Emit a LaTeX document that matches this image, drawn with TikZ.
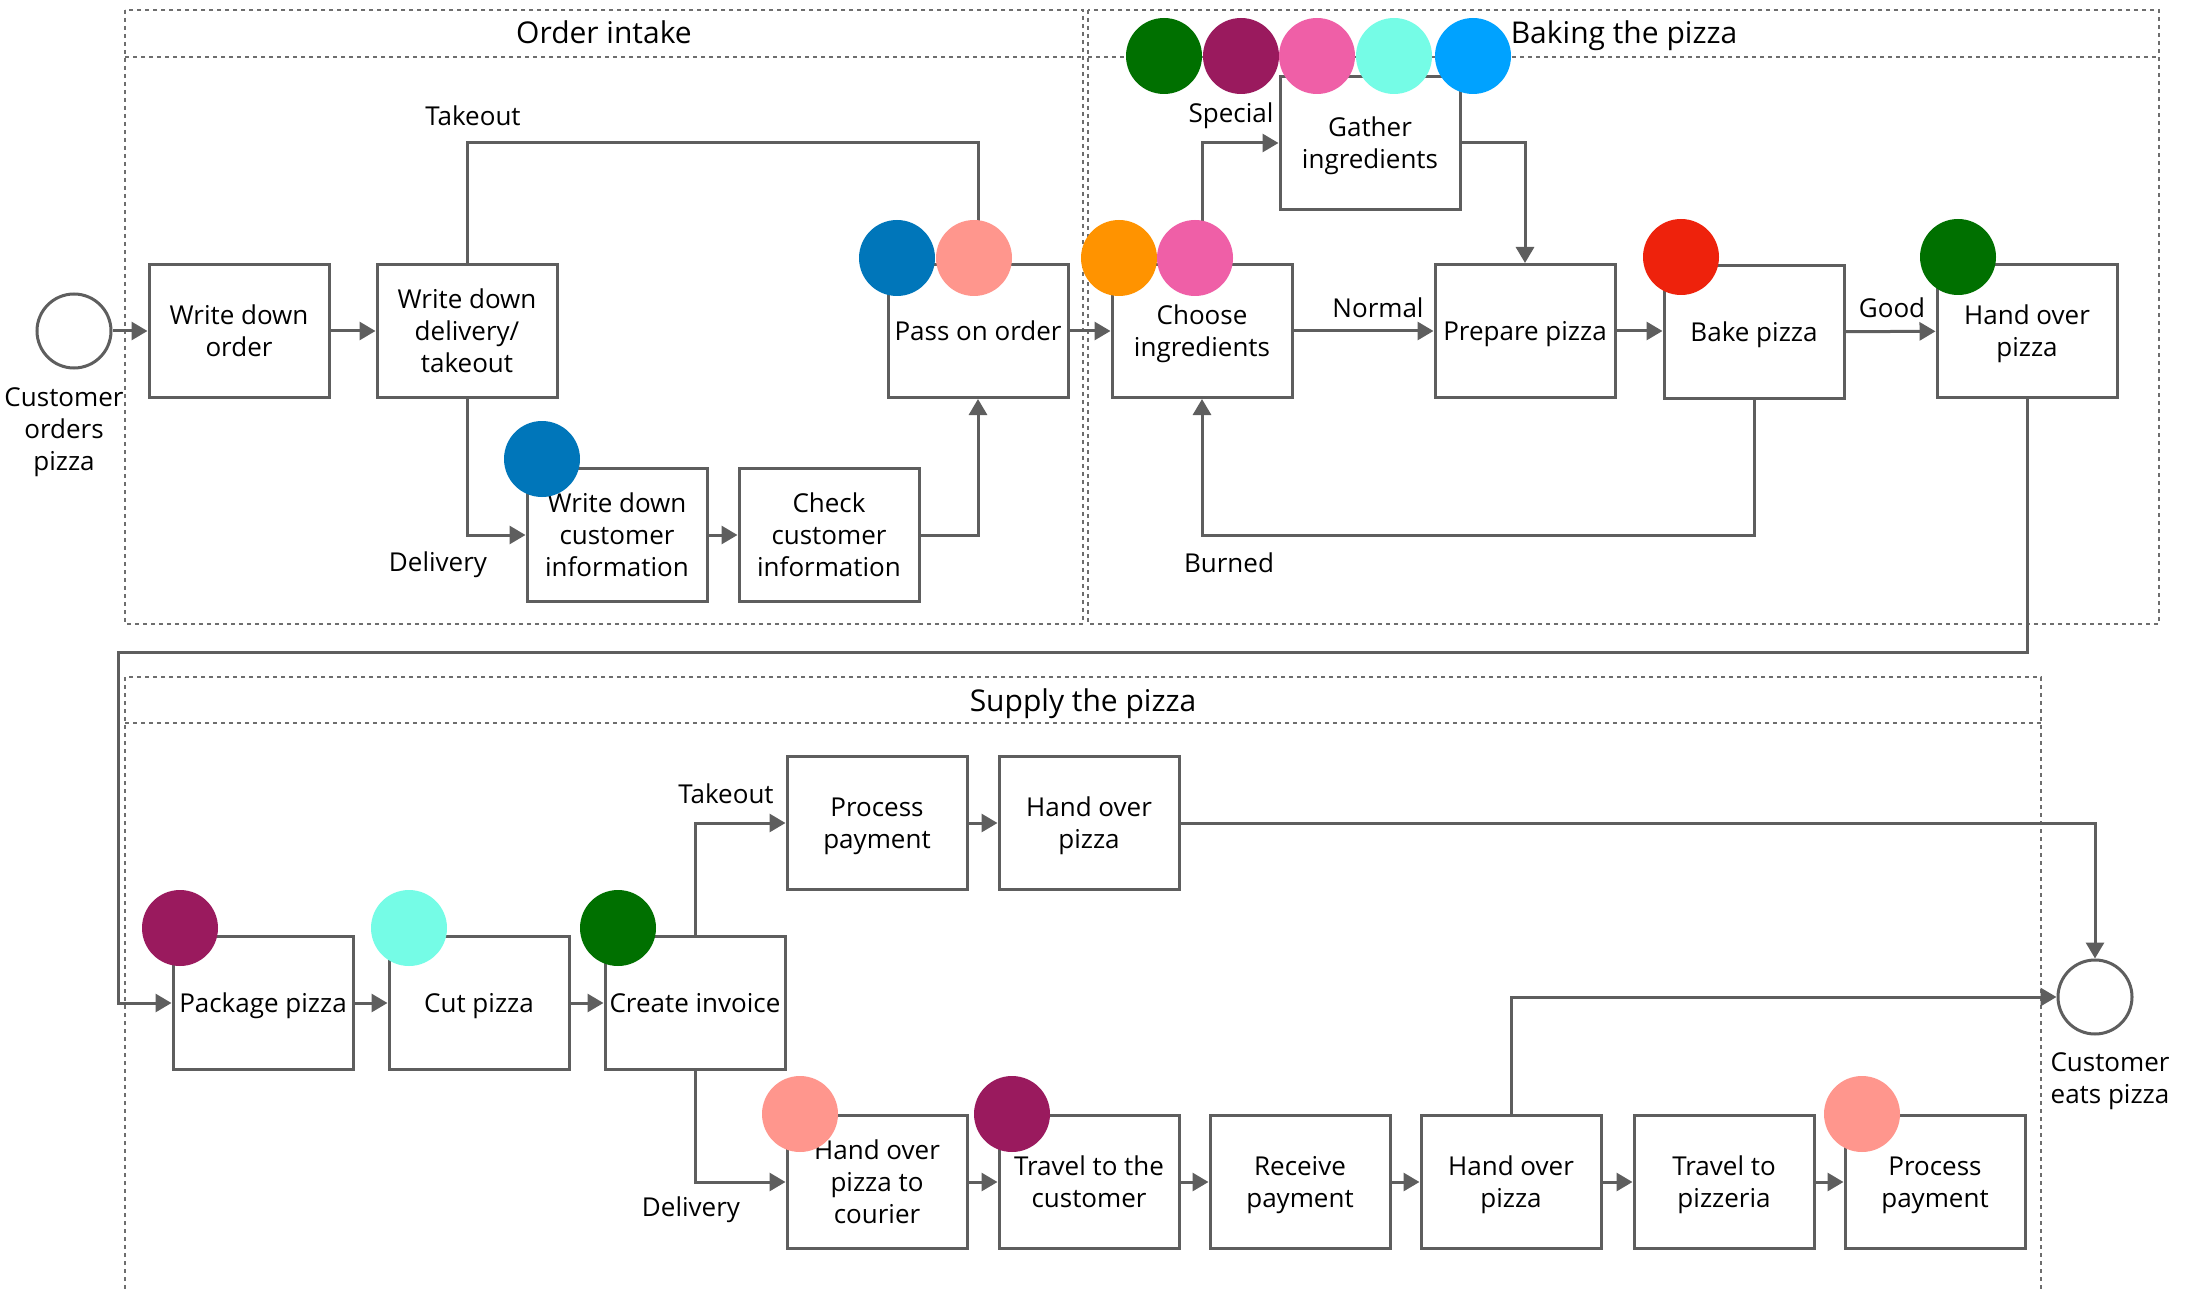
\documentclass[tikz,border=0pt]{standalone}
\usepackage{fontspec}
\setmainfont{Open Sans}
\usepackage{tikz}
\newcommand{\defaulttokensize}{38pt}
\newcommand{\tokensize}{\defaulttokensize}
\usetikzlibrary{arrows.meta}
\definecolor{linegray}{HTML}{5E5E5E}
\definecolor{lanegray}{HTML}{6E6E6E}
\definecolor{tokgreen}{HTML}{007000}
\definecolor{tokpurple}{HTML}{9A1A5E}
\definecolor{tokpink}{HTML}{EF5FA7}
\definecolor{tokaqua}{HTML}{75FCE6}
\definecolor{tokblue}{HTML}{00A2FF}
\definecolor{tokdeepblue}{HTML}{0076BA}
\definecolor{toksalmon}{HTML}{FF968D}
\definecolor{tokorange}{HTML}{FF9300}
\definecolor{tokred}{HTML}{EE220C}
\tikzstyle{task}=[draw=linegray, line width=1.5pt, fill=white, align=center, inner sep=1pt, text depth=0pt,
                  minimum width=90pt, minimum height=66.5pt, font=\fontsize{13}{16}\selectfont]
\tikzstyle{event}=[draw=linegray, line width=1.5pt, circle, inner sep=0, minimum size=37pt]
\tikzstyle{token}=[circle, draw=none, inner sep=0, minimum size=\tokensize]
\tikzstyle{flow}=[draw=linegray, line width=1.5pt, -{Triangle[length=8pt, width=9pt]}]
\tikzstyle{lane}=[draw=lanegray, line width=1pt, dash pattern=on 2pt off 2pt]
\tikzstyle{caption}=[align=center, inner sep=0, font=\fontsize{13}{16}\selectfont]
\tikzstyle{lanetitle}=[inner sep=0, anchor=base, font=\fontsize{15}{18}\selectfont]
\tikzstyle{pizzaflow}=[x=0.5pt, y=-0.5pt,
                       % keep the page at the size of the reference
                       execute at begin picture={\useasboundingbox (0, 0) rectangle (2185, 1289);}]

\begin{document}
\begin{tikzpicture}[pizzaflow]
    \draw[lane] (125, 10) rectangle (1083, 624);
    \draw[lane] (125, 57) -- (1083, 57);
    \draw[lane] (1088, 10) rectangle (2159, 624);
    \draw[lane] (1088, 57) -- (2159, 57);
    \draw[lane] (125, 1289) -- (125, 677) -- (2041, 677) -- (2041, 1289);
    \draw[lane] (125, 723) -- (2041, 723);
    \node[lanetitle] (IntakeTitle) at (604, 44) {Order intake};
    \node[lanetitle] (BakingTitle) at (1624, 44) {Baking the pizza};
    \node[lanetitle] (SupplyTitle) at (1083, 711) {Supply the pizza};

    \node[event] (Start) at (74, 331) {};
    \node[caption] (StartText) at (64, 432) {Customer\\orders\\pizza};
    \node[task] (WriteOrder) at (239, 331) {Write down\\order};
    \node[task] (WriteDelivery) at (467, 331) {Write down\\delivery/\\takeout};
    \node[task] (WriteCustomer) at (617, 535) {Write down\\customer\\information};
    \node[task] (CheckCustomer) at (829, 535) {Check\\customer\\information};
    \node[task] (PassOrder) at (978, 331) {Pass on order};

    \node[task] (Choose) at (1202, 331) {Choose\\ingredients};
    \node[task] (Gather) at (1370, 143) {Gather\\ingredients};
    \node[task] (Prepare) at (1525, 331) {Prepare pizza};
    \node[task] (Bake) at (1754, 332) {Bake pizza};
    \node[task] (HandOver) at (2027, 331) {Hand over\\pizza};

    \node[task] (Package) at (263, 1003) {Package pizza};
    \node[task] (Cut) at (479, 1003) {Cut pizza};
    \node[task] (Invoice) at (695, 1003) {Create invoice};
    \node[task] (PayTake) at (877, 823) {Process\\payment};
    \node[task] (HandTake) at (1089, 823) {Hand over\\pizza};
    \node[task] (Courier) at (877, 1182) {Hand over\\pizza to\\courier};
    \node[task] (Travel) at (1089, 1182) {Travel to the\\customer};
    \node[task] (Receive) at (1300, 1182) {Receive\\payment};
    \node[task] (HandCustomer) at (1511, 1182) {Hand over\\pizza};
    \node[task] (Return) at (1724, 1182) {Travel to\\pizzeria};
    \node[task] (PayBack) at (1935, 1182) {Process\\payment};
    \node[event] (End) at (2095, 997) {};
    \node[caption] (EndText) at (2110, 1081) {Customer\\eats pizza};

    \draw[flow] (Start) -- (WriteOrder);
    \draw[flow] (WriteOrder) -- (WriteDelivery);
    \draw[flow] (WriteDelivery) -- (WriteDelivery |- 0, 143) -| (PassOrder);
    \draw[flow] (WriteDelivery) |- (WriteCustomer);
    \draw[flow] (WriteCustomer) -- (CheckCustomer);
    \draw[flow] (CheckCustomer) -| (PassOrder);
    \draw[flow] (PassOrder) -- (Choose);
    \draw[flow] (Choose) |- (Gather);
    \draw[flow] (Gather) -| (Prepare);
    \draw[flow] (Choose) -- (Prepare);
    \draw[flow] (Prepare) -- (Prepare -| Bake.west);
    \draw[flow] (Bake) -- (HandOver);
    \draw[flow] (Bake) -- (Bake |- 0, 535) -| (Choose);
    \draw[flow] (HandOver) |- (118, 652) |- (Package);
    \draw[flow] (Package) -- (Cut);
    \draw[flow] (Cut) -- (Invoice);
    \draw[flow] (Invoice) |- (PayTake);
    \draw[flow] (PayTake) -- (HandTake);
    \draw[flow] (HandTake) -| (End);
    \draw[flow] (Invoice) |- (Courier);
    \draw[flow] (Courier) -- (Travel);
    \draw[flow] (Travel) -- (Receive);
    \draw[flow] (Receive) -- (HandCustomer);
    \draw[flow] (HandCustomer) -- (Return);
    \draw[flow] (Return) -- (PayBack);
    \draw[flow] (HandCustomer) |- (End);

    \node[caption] (TakeoutText) at (473, 116) {Takeout};
    \node[caption] (DeliveryText) at (438, 565) {Delivery};
    \node[caption] (SpecialText) at (1231, 116) {Special};
    \node[caption] (NormalText) at (1378, 308) {Normal};
    \node[caption] (GoodText) at (1892, 308) {Good};
    \node[caption] (BurnedText) at (1229, 563) {Burned};
    \node[caption] (TakeoutTextB) at (726, 794) {Takeout};
    \node[caption] (DeliveryTextB) at (691, 1210) {Delivery};

    \node[token, fill=tokdeepblue] (PassTokA) at (897, 258) {};
    \node[token, fill=toksalmon] (PassTokB) at (974, 258) {};
    \node[token, fill=tokdeepblue] (CustomerTok) at (542, 459) {};
    \node[token, fill=tokorange] (ChooseTokA) at (1119, 258) {};
    \node[token, fill=tokpink] (ChooseTokB) at (1195, 258) {};
    \node[token, fill=tokgreen] (GatherTokA) at (1164, 56) {};
    \node[token, fill=tokpurple] (GatherTokB) at (1241, 56) {};
    \node[token, fill=tokpink] (GatherTokC) at (1317, 56) {};
    \node[token, fill=tokaqua] (GatherTokD) at (1394, 56) {};
    \node[token, fill=tokblue] (GatherTokE) at (1473, 56) {};
    \node[token, fill=tokred] (BakeTok) at (1681, 257) {};
    \node[token, fill=tokgreen] (HandOverTok) at (1958, 257) {};
    \node[token, fill=tokpurple] (PackageTok) at (180, 928) {};
    \node[token, fill=tokaqua] (CutTok) at (409, 928) {};
    \node[token, fill=tokgreen] (InvoiceTok) at (618, 928) {};
    \node[token, fill=toksalmon] (CourierTok) at (800, 1114) {};
    \node[token, fill=tokpurple] (TravelTok) at (1012, 1114) {};
    \node[token, fill=toksalmon] (PayBackTok) at (1862, 1114) {};
\end{tikzpicture}
\end{document}
